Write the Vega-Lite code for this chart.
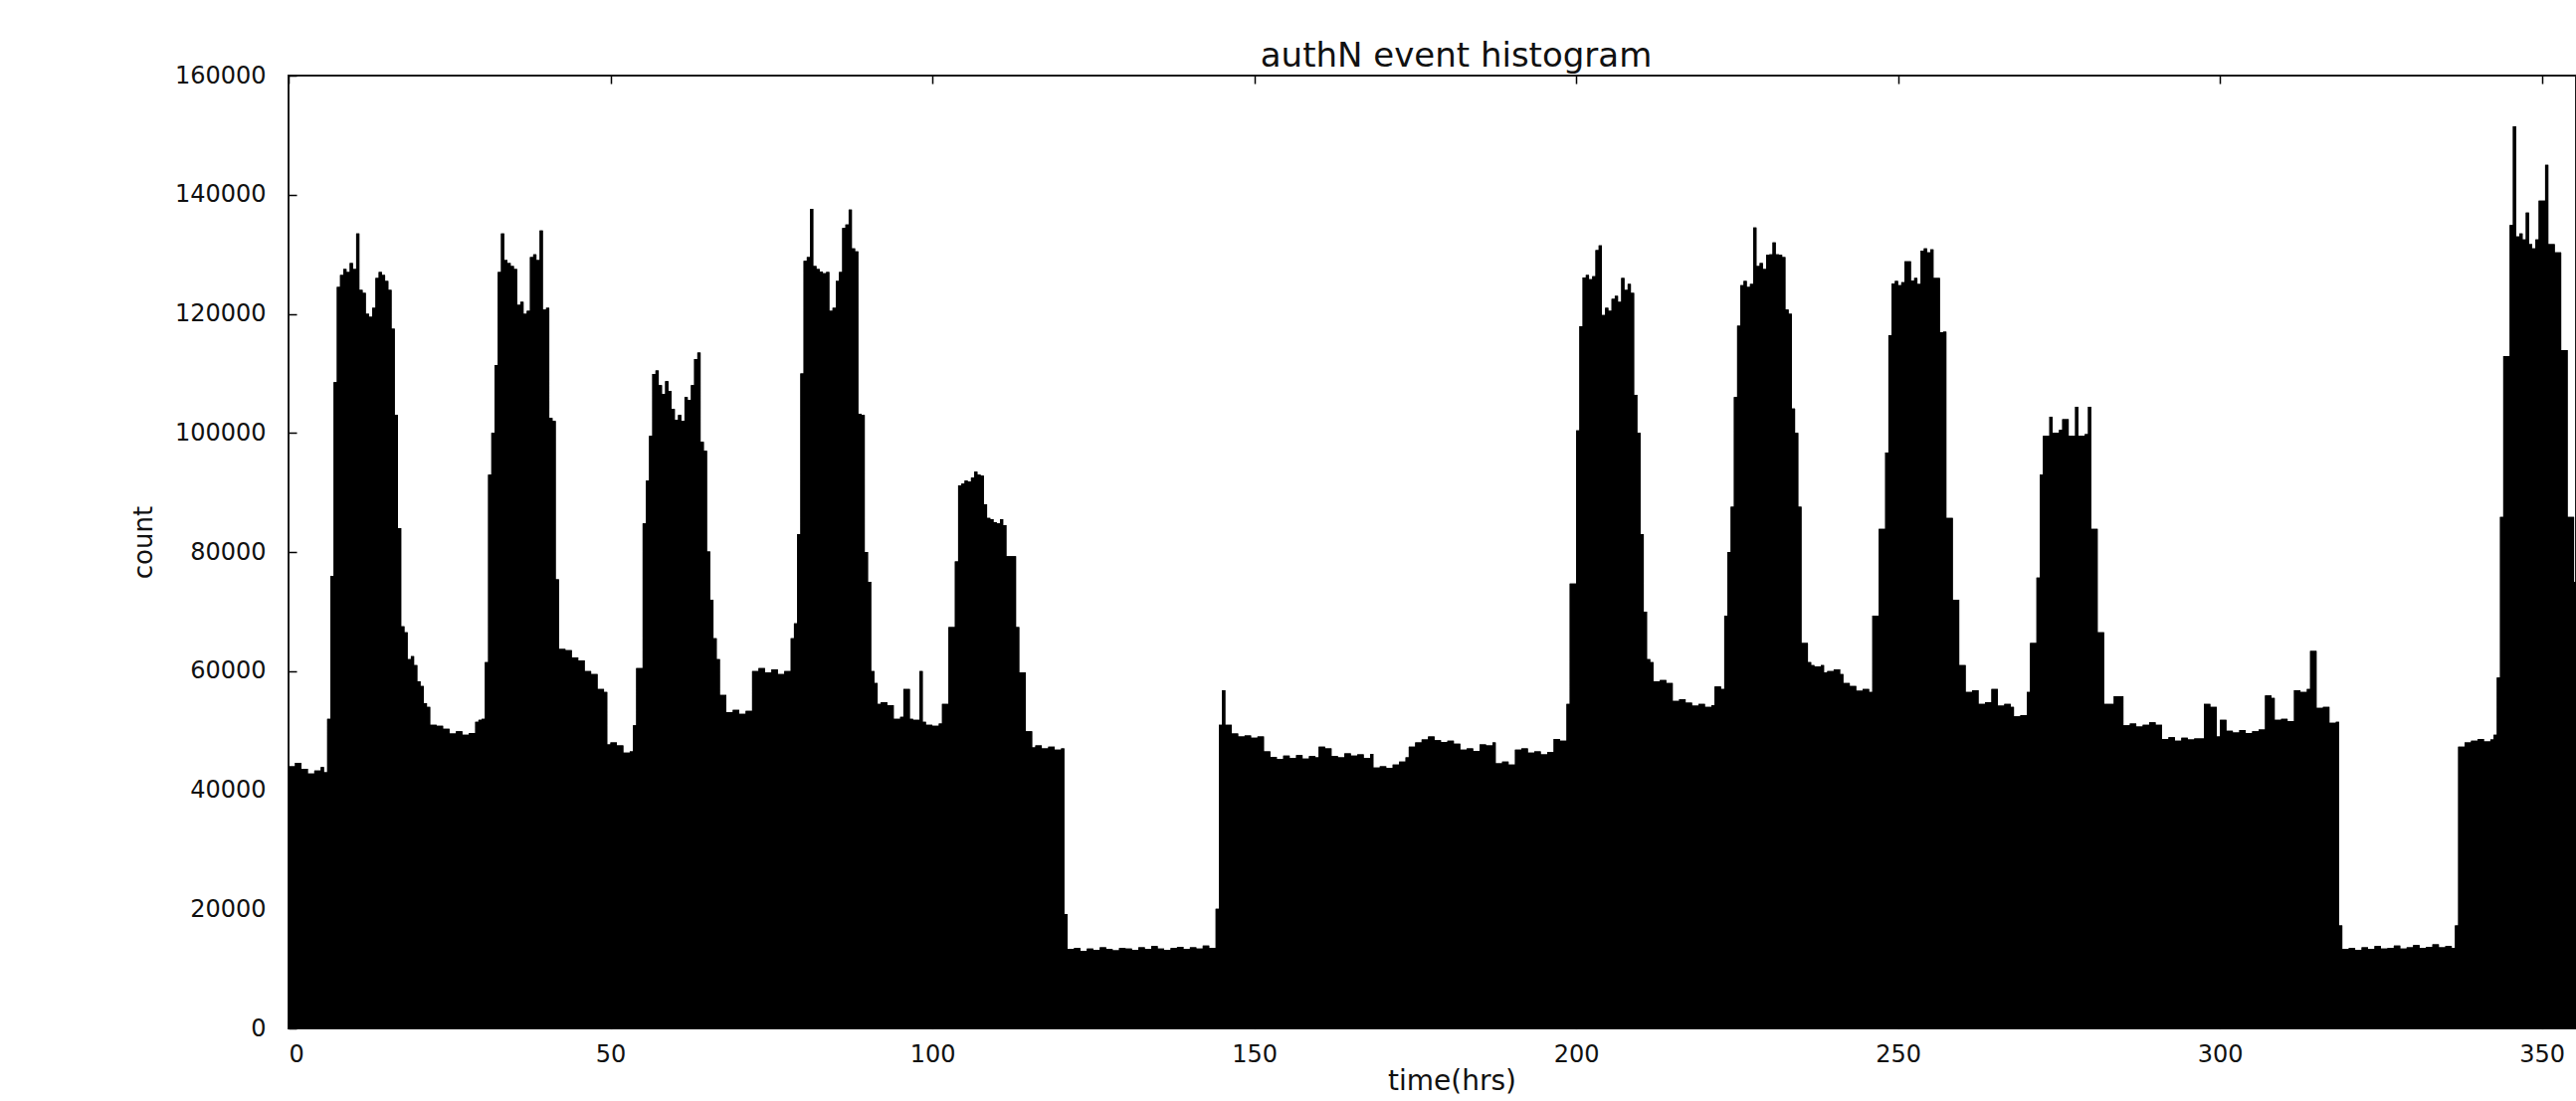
{
  "$schema": "https://vega.github.io/schema/vega-lite/v6.json",
  "autosize": {"type": "none"},
  "width": 2299,
  "height": 958,
  "padding": {"left": 290, "top": 76, "right": 0, "bottom": 73},
  "background": "white",
  "config": {
    "font": "DejaVu Sans",
    "view": {"stroke": "#1a1a1a", "strokeWidth": 2},
    "axis": {"grid": false, "domain": false, "tickColor": "#000", "tickSize": -8, "tickWidth": 1.5, "labelFontSize": 24, "labelColor": "#111", "titleFontSize": 24, "titleFontWeight": "normal", "titleColor": "#111", "labelFont": "DejaVu Sans", "titleFont": "DejaVu Sans"}
  },
  "title": {"text": "authN event histogram", "fontSize": 34, "fontWeight": "normal", "font": "DejaVu Sans", "color": "#111", "anchor": "middle", "dx": 24, "offset": -10},
  "data": {"values": [
    {"t":0,"c":44000},{"t":1,"c":44600},{"t":2,"c":43600},{"t":3,"c":42800},{"t":4,"c":43300},{"t":5,"c":43900},{"t":5.5,"c":43000},
    {"t":6,"c":52000},{"t":6.5,"c":76000},{"t":7,"c":108500},{"t":7.5,"c":124500},{"t":8,"c":126500},{"t":8.5,"c":127500},{"t":9,"c":127000},{"t":9.5,"c":128500},{"t":10,"c":127500},{"t":10.5,"c":133500},{"t":11,"c":124000},{"t":11.5,"c":123500},{"t":12,"c":120000},{"t":12.5,"c":119500},{"t":13,"c":121000},{"t":13.5,"c":126000},{"t":14,"c":127000},{"t":14.5,"c":126500},{"t":15,"c":125500},{"t":15.5,"c":124000},{"t":16,"c":117500},{"t":16.5,"c":103000},{"t":17,"c":84000},{"t":17.5,"c":67500},{"t":18,"c":66500},{"t":18.5,"c":62000},{"t":19,"c":62500},{"t":19.5,"c":61000},{"t":20,"c":58300},{"t":20.5,"c":57500},{"t":21,"c":54600},{"t":21.5,"c":54000},{"t":22,"c":51000},{"t":23,"c":50800},{"t":24,"c":50300},{"t":25,"c":49500},{"t":26,"c":49900},{"t":27,"c":49300},{"t":28,"c":49600},{"t":29,"c":51500},{"t":29.5,"c":51800},
    {"t":30,"c":52000},{"t":30.5,"c":61500},{"t":31,"c":93000},{"t":31.5,"c":100000},{"t":32,"c":111400},{"t":32.5,"c":127000},{"t":33,"c":133500},{"t":33.5,"c":129000},{"t":34,"c":128500},{"t":34.5,"c":128000},{"t":35,"c":127500},{"t":35.5,"c":121500},{"t":36,"c":122000},{"t":36.5,"c":120000},{"t":37,"c":120500},{"t":37.5,"c":129500},{"t":38,"c":130000},{"t":38.5,"c":129000},{"t":39,"c":134000},{"t":39.5,"c":120700},{"t":40,"c":121000},{"t":40.5,"c":102500},{"t":41,"c":102000},{"t":41.5,"c":75400},{"t":42,"c":63700},{"t":43,"c":63500},{"t":44,"c":62300},{"t":45,"c":61800},{"t":46,"c":60000},{"t":47,"c":59500},{"t":48,"c":57000},{"t":49,"c":56500},{"t":49.5,"c":47700},{"t":50,"c":48000},{"t":51,"c":47500},{"t":52,"c":46300},{"t":53,"c":46500},{"t":53.5,"c":50900},{"t":54,"c":60500},
    {"t":55,"c":84800},{"t":55.5,"c":92000},{"t":56,"c":99500},{"t":56.5,"c":109900},{"t":57,"c":110500},{"t":57.5,"c":108000},{"t":58,"c":106500},{"t":58.5,"c":108700},{"t":59,"c":107000},{"t":59.5,"c":104000},{"t":60,"c":102200},{"t":60.5,"c":103000},{"t":61,"c":102000},{"t":61.5,"c":106000},{"t":62,"c":105500},{"t":62.5,"c":108000},{"t":63,"c":112400},{"t":63.5,"c":113500},{"t":64,"c":98500},{"t":64.5,"c":97000},{"t":65,"c":80100},{"t":65.5,"c":72000},{"t":66,"c":65500},{"t":66.5,"c":62000},{"t":67,"c":56000},{"t":68,"c":53100},{"t":69,"c":53500},{"t":70,"c":52800},{"t":71,"c":53300},{"t":72,"c":60000},{"t":73,"c":60500},{"t":74,"c":59800},{"t":75,"c":60300},{"t":76,"c":59500},{"t":77,"c":60000},{"t":78,"c":65500},{"t":78.5,"c":68000},
    {"t":79,"c":83000},{"t":79.5,"c":110000},{"t":80,"c":128900},{"t":80.5,"c":129500},{"t":81,"c":137600},{"t":81.5,"c":128000},{"t":82,"c":127500},{"t":82.5,"c":127100},{"t":83,"c":126800},{"t":83.5,"c":127000},{"t":84,"c":120500},{"t":84.5,"c":121000},{"t":85,"c":125500},{"t":85.5,"c":127000},{"t":86,"c":134400},{"t":86.5,"c":135000},{"t":87,"c":137500},{"t":87.5,"c":131000},{"t":88,"c":130500},{"t":88.5,"c":103200},{"t":89,"c":103000},{"t":89.5,"c":80000},{"t":90,"c":75000},{"t":90.5,"c":60000},{"t":91,"c":58000},{"t":91.5,"c":54500},{"t":92,"c":54800},{"t":93,"c":54300},{"t":94,"c":52000},{"t":95,"c":52300},{"t":95.5,"c":57000},{"t":96.5,"c":52000},{"t":97,"c":51800},{"t":98,"c":60000},{"t":98.5,"c":51500},{"t":99,"c":51000},{"t":100,"c":50800},{"t":101,"c":51200},{"t":101.5,"c":54500},
    {"t":102.5,"c":67400},{"t":103.5,"c":78400},{"t":104,"c":91200},{"t":104.5,"c":91500},{"t":105,"c":92000},{"t":105.5,"c":91800},{"t":106,"c":92500},{"t":106.5,"c":93500},{"t":107,"c":93000},{"t":107.5,"c":92800},{"t":108,"c":88000},{"t":108.5,"c":85700},{"t":109,"c":85500},{"t":109.5,"c":85000},{"t":110,"c":84800},{"t":110.5,"c":85500},{"t":111,"c":84500},{"t":111.5,"c":79300},{"t":113,"c":67400},{"t":113.5,"c":59800},{"t":114.5,"c":49900},{"t":115.5,"c":47200},{"t":116,"c":47500},{"t":117,"c":47000},{"t":118,"c":47300},{"t":119,"c":46800},{"t":120,"c":47000},
    {"t":120.5,"c":19200},{"t":121,"c":13300},{"t":122,"c":13500},{"t":123,"c":13000},{"t":124,"c":13400},{"t":125,"c":13200},{"t":126,"c":13600},{"t":127,"c":13300},{"t":128,"c":13100},{"t":129,"c":13500},{"t":130,"c":13400},{"t":131,"c":13200},{"t":132,"c":13600},{"t":133,"c":13300},{"t":134,"c":13800},{"t":135,"c":13400},{"t":136,"c":13200},{"t":137,"c":13500},{"t":138,"c":13700},{"t":139,"c":13300},{"t":140,"c":13600},{"t":141,"c":13400},{"t":142,"c":13900},{"t":143,"c":13500},{"t":144,"c":20100},
    {"t":144.5,"c":51000},{"t":145,"c":56800},{"t":145.5,"c":51000},{"t":146.5,"c":49500},{"t":147.5,"c":49000},{"t":148.5,"c":49200},{"t":149.5,"c":48800},{"t":150.5,"c":49000},{"t":151.5,"c":46500},{"t":152.5,"c":45600},{"t":153.5,"c":45200},{"t":154.5,"c":45800},{"t":155.5,"c":45400},{"t":156.5,"c":45900},{"t":157.5,"c":45300},{"t":158.5,"c":45700},{"t":159.5,"c":45500},{"t":160,"c":47300},{"t":161,"c":47000},{"t":162,"c":45700},{"t":163,"c":45500},{"t":164,"c":46200},{"t":165,"c":45800},{"t":166,"c":46000},{"t":167,"c":45400},{"t":168,"c":46100},{"t":168.5,"c":43800},{"t":169.5,"c":44000},{"t":170.5,"c":43700},{"t":171.5,"c":44300},{"t":172.5,"c":44800},{"t":173.5,"c":45500},{"t":174,"c":47300},{"t":175,"c":48000},{"t":176,"c":48500},{"t":177,"c":49000},{"t":178,"c":48400},{"t":179,"c":48100},{"t":180,"c":48300},{"t":181,"c":47800},{"t":182,"c":46800},{"t":183,"c":47000},{"t":184,"c":46600},{"t":185,"c":47700},{"t":186,"c":47500},{"t":187,"c":48000},{"t":187.5,"c":44500},{"t":188.5,"c":44800},{"t":189.5,"c":44300},{"t":190.5,"c":46800},{"t":191.5,"c":47000},{"t":192.5,"c":46300},{"t":193.5,"c":46500},{"t":194.5,"c":46000},{"t":195.5,"c":46400},{"t":196.5,"c":48600},{"t":197.5,"c":48300},{"t":198.5,"c":54500},
    {"t":199,"c":74700},{"t":200,"c":100400},{"t":200.5,"c":117900},{"t":201,"c":126100},{"t":201.5,"c":126500},{"t":202,"c":125800},{"t":202.5,"c":126300},{"t":203,"c":130700},{"t":203.5,"c":131500},{"t":204,"c":119800},{"t":204.5,"c":121000},{"t":205,"c":120500},{"t":205.5,"c":122500},{"t":206,"c":123000},{"t":206.5,"c":122000},{"t":207,"c":126000},{"t":207.5,"c":124000},{"t":208,"c":125000},{"t":208.5,"c":123500},{"t":209,"c":106400},{"t":209.5,"c":100000},{"t":210,"c":83000},{"t":210.5,"c":70000},{"t":211,"c":62000},{"t":211.5,"c":61500},{"t":212,"c":58300},{"t":213,"c":58500},{"t":214,"c":58000},{"t":215,"c":55000},{"t":216,"c":55300},{"t":217,"c":54700},{"t":218,"c":54200},{"t":219,"c":54500},{"t":220,"c":54000},{"t":221,"c":54300},{"t":221.5,"c":57400},{"t":222.5,"c":57000},
    {"t":223,"c":69300},{"t":223.5,"c":80000},{"t":224,"c":87600},{"t":224.5,"c":106000},{"t":225,"c":118000},{"t":225.5,"c":124800},{"t":226,"c":125500},{"t":226.5,"c":124500},{"t":227,"c":125000},{"t":227.5,"c":134500},{"t":228,"c":128000},{"t":228.5,"c":128500},{"t":229,"c":127500},{"t":229.5,"c":129900},{"t":230,"c":130000},{"t":230.5,"c":132000},{"t":231,"c":130000},{"t":231.5,"c":129900},{"t":232,"c":129500},{"t":232.5,"c":120700},{"t":233,"c":120000},{"t":233.5,"c":104100},{"t":234,"c":100000},{"t":234.5,"c":87600},{"t":235,"c":64700},{"t":236,"c":61500},{"t":236.5,"c":61000},{"t":237,"c":60800},{"t":238,"c":61000},{"t":238.5,"c":59800},{"t":239,"c":60000},{"t":240,"c":60300},{"t":241,"c":59500},{"t":241.5,"c":58000},{"t":242.5,"c":57500},{"t":243.5,"c":56700},{"t":244.5,"c":57000},{"t":245.5,"c":56500},
    {"t":246,"c":69300},{"t":247,"c":83900},{"t":248,"c":96700},{"t":248.5,"c":116400},{"t":249,"c":125100},{"t":249.5,"c":125500},{"t":250,"c":124800},{"t":250.5,"c":125300},{"t":251,"c":128800},{"t":252,"c":125600},{"t":252.5,"c":126000},{"t":253,"c":125000},{"t":253.5,"c":130600},{"t":254,"c":131000},{"t":254.5,"c":130300},{"t":255,"c":130800},{"t":255.5,"c":126000},{"t":256.5,"c":116900},{"t":257,"c":117000},{"t":257.5,"c":85700},{"t":258.5,"c":72000},{"t":259.5,"c":61000},{"t":260.5,"c":56500},{"t":261.5,"c":56800},{"t":262.5,"c":54500},{"t":263.5,"c":54800},{"t":264.5,"c":57000},{"t":265.5,"c":54200},{"t":266.5,"c":54500},{"t":267.5,"c":54000},{"t":268,"c":52400},{"t":269,"c":52600},{"t":270,"c":56500},{"t":270.5,"c":64700},{"t":271.5,"c":75700},{"t":272,"c":93000},{"t":272.5,"c":99500},{"t":273.5,"c":102700},{"t":274,"c":100000},{"t":275,"c":100500},{"t":275.5,"c":102300},{"t":276.5,"c":99500},{"t":277.5,"c":104400},{"t":278,"c":99500},{"t":279,"c":99800},{"t":279.5,"c":104400},{"t":280,"c":83900},{"t":281,"c":66500},{"t":282,"c":54500},{"t":283.5,"c":55800},{"t":285,"c":50900},{"t":286,"c":51200},{"t":287,"c":50700},{"t":288,"c":51000},{"t":289,"c":51400},{"t":290,"c":51000},{"t":291,"c":48600},{"t":292,"c":48900},{"t":293,"c":48300},{"t":294,"c":48800},{"t":295,"c":48500},{"t":296,"c":48700},{"t":297.5,"c":54500},{"t":298.5,"c":54000},{"t":299.5,"c":49000},{"t":300,"c":51800},{"t":301,"c":50000},{"t":302,"c":49700},{"t":303,"c":50100},{"t":304,"c":49600},{"t":305,"c":49900},{"t":306,"c":50200},{"t":307,"c":55900},{"t":308,"c":55500},{"t":308.5,"c":51800},{"t":309.5,"c":52000},{"t":310.5,"c":51600},{"t":311.5,"c":56800},{"t":312.5,"c":56500},{"t":313.5,"c":57000},{"t":314,"c":63400},{"t":315,"c":53800},{"t":316,"c":54000},{"t":317,"c":51300},{"t":318,"c":51500},{"t":318.5,"c":17300},
    {"t":319,"c":13300},{"t":320,"c":13500},{"t":321,"c":13200},{"t":322,"c":13600},{"t":323,"c":13300},{"t":324,"c":13800},{"t":325,"c":13400},{"t":326,"c":13500},{"t":327,"c":13900},{"t":328,"c":13400},{"t":329,"c":13600},{"t":330,"c":14000},{"t":331,"c":13500},{"t":332,"c":13700},{"t":333,"c":14100},{"t":334,"c":13600},{"t":335,"c":13800},{"t":336,"c":13500},{"t":336.5,"c":17300},
    {"t":337,"c":47300},{"t":338,"c":48000},{"t":339,"c":48300},{"t":340,"c":48600},{"t":341,"c":48200},{"t":342,"c":48500},{"t":342.5,"c":49300},{"t":343,"c":58900},{"t":343.5,"c":85900},{"t":344,"c":112900},{"t":345,"c":134900},{"t":345.5,"c":151500},{"t":346,"c":133000},{"t":346.5,"c":133500},{"t":347,"c":132500},{"t":347.5,"c":137000},{"t":348,"c":131700},{"t":348.5,"c":131000},{"t":349,"c":132500},{"t":349.5,"c":139000},{"t":350.5,"c":145000},{"t":351,"c":131700},{"t":352,"c":130300},{"t":353,"c":113900},{"t":354,"c":85900},{"t":355,"c":75000},{"t":356,"c":75000}
  ]},
  "layer": [
    {
      "mark": {"type": "area", "interpolate": "step-after", "color": "black", "clip": true},
      "encoding": {
        "x": {"field": "t", "type": "quantitative", "scale": {"domain": [0, 355.3], "nice": false, "zero": false},
          "axis": {"values": [0, 50, 100, 150, 200, 250, 300, 350], "labelPadding": 22, "title": "time(hrs)", "titleFontSize": 28, "titleX": 1169, "titleY": 53, "titleBaseline": "middle"}},
        "y": {"field": "c", "type": "quantitative", "scale": {"domain": [0, 160000], "nice": false},
          "axis": {"values": [0, 20000, 40000, 60000, 80000, 100000, 120000, 140000, 160000], "format": "d", "labelPadding": 31, "title": "count", "titleFontSize": 26, "titleX": -146, "titleY": 469, "titleAngle": 270, "titleBaseline": "middle", "titleAlign": "center"}}
      }
    },
    {
      "mark": {"type": "area", "interpolate": "step-after", "color": "black", "clip": true},
      "encoding": {
        "x": {"field": "t", "type": "quantitative", "scale": {"domain": [0, 355.3], "nice": false, "zero": false},
          "axis": {"orient": "top", "values": [0, 50, 100, 150, 200, 250, 300, 350], "labels": false, "title": null}},
        "y": {"field": "c", "type": "quantitative", "scale": {"domain": [0, 160000], "nice": false},
          "axis": {"values": [0, 20000, 40000, 60000, 80000, 100000, 120000, 140000, 160000], "format": "d", "labelPadding": 31, "title": "count", "titleFontSize": 26, "titleX": -146, "titleY": 469, "titleAngle": 270, "titleBaseline": "middle", "titleAlign": "center"}}
      }
    }
  ],
  "resolve": {"axis": {"x": "independent"}}
}
